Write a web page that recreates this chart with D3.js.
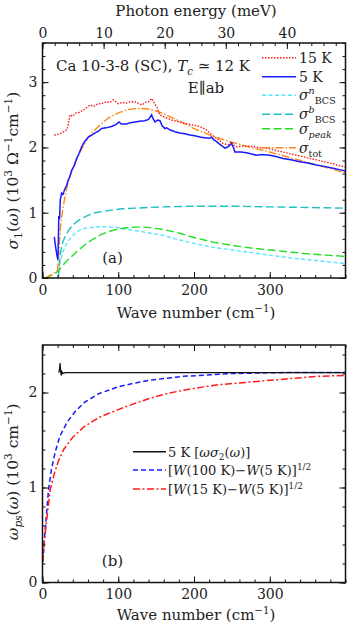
<!DOCTYPE html>
<html>
  <head>
    <meta charset="utf-8">
    <title>Ca 10-3-8 optical conductivity</title>
    <style>
      body { margin: 0; background: #fff; }
      text { font-family: "DejaVu Serif", serif; fill: #222; }
    </style>
  </head>
  <body>
    <div id="container"></div>
    <script src="https://cdn.jsdelivr.net/npm/d3@7"></script>
    <script>
      // panel (a): sigma_1, x in cm^-1, y in 10^3 Ohm^-1 cm^-1
      var sig15K = [[15.6,2.19],[20,2.2],[25.3,2.22],[29,2.25],[32,2.27],[34,2.35],[36.3,2.50],[40,2.48],[44,2.53],[47,2.53],[52,2.56],[57,2.6],[62.7,2.65],[68,2.63],[73,2.67],[78,2.67],[84,2.7],[89,2.69],[93.4,2.73],[97,2.7],[100,2.67],[105,2.69],[111,2.68],[116,2.7],[122,2.70],[126,2.68],[131,2.65],[136,2.69],[140,2.7],[144,2.75],[148,2.67],[151,2.62],[155,2.50],[160,2.47],[164,2.45],[170,2.42],[178,2.4],[186,2.37],[196,2.35],[207.8,2.32],[215,2.28],[221,2.22],[226,2.17],[230,2.14],[238.5,2.06],[245,2.04],[249.6,2.09],[253,2.03],[256,2.01],[265,2.02],[273.7,2.02],[285,2.0],[295.7,1.99],[306,1.96],[317.6,1.93],[328,1.9],[339.7,1.87],[350,1.84],[361.7,1.81],[372,1.78],[383.6,1.75],[392,1.72],[400,1.70]];
      var sig5K = [[15.6,0.63],[17,0.5],[19,0.35],[20.3,0.28],[21,0.6],[21.5,0.95],[22.5,0.9],[23.5,1.2],[25.3,1.30],[27,1.28],[29.7,1.37],[32,1.42],[34,1.5],[36,1.55],[38.5,1.65],[42,1.72],[45,1.83],[48,1.9],[51.7,2.01],[55,2.08],[60.5,2.16],[65,2.19],[69,2.22],[74,2.25],[78,2.29],[84,2.3],[91,2.32],[97,2.35],[101,2.39],[104,2.36],[111,2.36],[116,2.38],[122,2.39],[128,2.4],[135,2.41],[140,2.43],[144,2.50],[146,2.44],[148.5,2.39],[152,2.42],[155,2.41],[158,2.33],[161.6,2.29],[164,2.3],[168,2.27],[175,2.24],[181,2.22],[188,2.21],[194.6,2.19],[201,2.18],[207.8,2.16],[214,2.15],[221,2.14],[223,2.16],[226,2.12],[229.8,2.09],[235,2.04],[240.8,1.99],[245,2.01],[249.6,2.06],[252,2.0],[254,1.93],[262,1.93],[269.4,1.92],[276,1.9],[282.6,1.88],[290,1.89],[300,1.88],[308,1.86],[317.6,1.83],[328,1.81],[339.7,1.78],[350,1.76],[361.7,1.73],[372,1.71],[383.6,1.68],[392,1.66],[400,1.64]];
      var sigBCSn = [[20.9,0],[22,0.15],[23.5,0.26],[25.3,0.33],[28,0.43],[32,0.53],[36,0.6],[40.6,0.66],[46,0.71],[51.7,0.75],[60,0.77],[69,0.78],[80,0.785],[91,0.78],[100,0.77],[109,0.75],[120,0.73],[131,0.71],[145,0.68],[157,0.66],[175,0.6],[200,0.53],[225,0.47],[250,0.43],[275,0.39],[300,0.35],[325,0.31],[350,0.28],[375,0.25],[400,0.22]];
      var sigBCSb = [[20.9,0],[22,0.2],[24.4,0.43],[27,0.56],[29.7,0.63],[34,0.72],[38.5,0.79],[45,0.86],[51.7,0.91],[60,0.96],[69,1.0],[80,1.02],[91,1.04],[105,1.06],[122,1.07],[140,1.08],[160,1.09],[200,1.1],[250,1.1],[300,1.09],[350,1.08],[400,1.07]];
      var sigPeak = [[3.3,0],[10,0.03],[16.5,0.07],[20,0.1],[25.3,0.17],[31,0.25],[38.5,0.33],[46,0.41],[56,0.51],[66,0.59],[78,0.67],[90,0.72],[100,0.75],[111,0.77],[122,0.78],[135,0.78],[150,0.76],[165,0.73],[180,0.69],[200,0.62],[225,0.55],[250,0.5],[275,0.46],[300,0.43],[325,0.4],[350,0.37],[375,0.35],[400,0.33]];
      var sigTot = [[3.3,0],[8,0.03],[12,0.05],[16,0.08],[20,0.12],[21.8,0.43],[23.5,0.75],[25.3,0.94],[27.5,1.1],[29.7,1.25],[34,1.47],[40.6,1.70],[49.5,1.93],[60.5,2.16],[73.6,2.32],[86.8,2.45],[100,2.53],[113,2.58],[126.4,2.60],[139.6,2.59],[155,2.54],[170,2.46],[185,2.38],[200,2.29],[225,2.17],[250,2.08],[275,2.0],[300,1.93],[325,1.85],[350,1.77],[375,1.69],[400,1.61]];

      // panel (b): omega_ps, y in 10^3 cm^-1
      var wps5K = [[21.5,2.21],[22.5,2.24],[23.2,2.31],[24,2.22],[24.8,2.18],[25.5,2.22],[27,2.2],[30,2.21],[60,2.21],[100,2.21],[150,2.21],[200,2.21],[300,2.21],[400,2.21]];
      var wps100K = [[0.5,0.22],[2,0.4],[4,0.6],[8,0.98],[12,1.2],[17,1.38],[23,1.54],[32,1.68],[43,1.8],[56,1.9],[75,1.99],[100,2.06],[122,2.1],[142,2.13],[186,2.17],[251,2.2],[320,2.21],[400,2.21]];
      var wps15K = [[0.5,0.22],[2,0.4],[5,0.62],[10,0.97],[15,1.13],[21,1.28],[28,1.4],[40,1.53],[55,1.64],[75,1.74],[100,1.82],[120,1.88],[142,1.94],[165,1.99],[190,2.03],[230,2.08],[274,2.11],[318,2.14],[362,2.17],[400,2.18]];

      var xTicks = [0,100,200,300];
      var meVTicks = [0,10,20,30,40];
      var yTicksA = [0,1,2,3];
      var yTicksB = [0,1,2];

      var W = 347, H = 626;
      var left = 42.5, right = 345.5;
      var panA = {top: 43, bottom: 278, max: 3.6};
      var panB = {top: 345, bottom: 582.5, max: 2.5};

      var svg = d3.select("#container").append("svg")
        .attr("width", W).attr("height", H);

      var x = d3.scaleLinear().domain([0,400]).range([left, right]);
      var xMeV = d3.scaleLinear().domain([0, 400/8.0655]).range([left, right]);
      var yA = d3.scaleLinear().domain([0, panA.max]).range([panA.bottom, panA.top]);
      var yB = d3.scaleLinear().domain([0, panB.max]).range([panB.bottom, panB.top]);

      function minors(lo, hi, step) {
        var out = [];
        for (var v = lo; v <= hi + 1e-9; v += step) out.push(+v.toFixed(4));
        return out;
      }

      function drawAxes(p, y, yMaj, showTopMeV) {
        var g = svg.append("g");
        var h = p.bottom - p.top;
        // bottom
        g.append("g").attr("transform","translate(0," + p.bottom + ")")
          .call(d3.axisBottom(x).tickValues(minors(0,400,20)).tickSize(-3).tickFormat(""));
        g.append("g").attr("class","lab").attr("transform","translate(0," + p.bottom + ")")
          .call(d3.axisBottom(x).tickValues(xTicks).tickSize(-6).tickPadding(7).tickFormat(d3.format("d")));
        // top
        if (showTopMeV) {
          g.append("g").attr("transform","translate(0," + p.top + ")")
            .call(d3.axisTop(xMeV).tickValues(minors(0,48,2)).tickSize(-3).tickFormat(""));
          g.append("g").attr("class","lab").attr("transform","translate(0," + p.top + ")")
            .call(d3.axisTop(xMeV).tickValues(meVTicks).tickSize(-6).tickPadding(5).tickFormat(d3.format("d")));
        } else {
          g.append("g").attr("transform","translate(0," + p.top + ")")
            .call(d3.axisTop(x).tickValues(minors(0,400,20)).tickSize(-3).tickFormat(""));
          g.append("g").attr("transform","translate(0," + p.top + ")")
            .call(d3.axisTop(x).tickValues(xTicks).tickSize(-6).tickFormat(""));
        }
        // left/right
        g.append("g").attr("transform","translate(" + left + ",0)")
          .call(d3.axisLeft(y).tickValues(minors(0,p.max,0.2)).tickSize(-3).tickFormat(""));
        g.append("g").attr("class","lab").attr("transform","translate(" + left + ",0)")
          .call(d3.axisLeft(y).tickValues(yMaj).tickSize(-6).tickPadding(5).tickFormat(d3.format("d")));
        g.append("g").attr("transform","translate(" + right + ",0)")
          .call(d3.axisRight(y).tickValues(minors(0,p.max,0.2)).tickSize(-3).tickFormat(""));
        g.append("g").attr("transform","translate(" + right + ",0)")
          .call(d3.axisRight(y).tickValues(yMaj).tickSize(-6).tickFormat(""));
        g.selectAll(".domain").remove();
        g.selectAll(".tick line").attr("stroke","#111").attr("stroke-width",1);
        g.selectAll(".lab text").attr("font-family","DejaVu Serif").attr("font-size",14).attr("fill","#222");
        g.append("rect").attr("x",left).attr("y",p.top).attr("width",right-left).attr("height",h)
          .attr("fill","none").attr("stroke","#111").attr("stroke-width",1.5);
      }

      function drawLine(data, y, color, dash, wid) {
        var line = d3.line().x(function(d){ return x(d[0]); }).y(function(d){ return y(d[1]); });
        svg.append("path").datum(data).attr("d", line)
          .attr("fill","none").attr("stroke",color).attr("stroke-width",wid || 1.4)
          .attr("stroke-dasharray", dash);
      }

      // rich text helper: parts = [[text, style]] style: i=italic, sub, sup
      function rich(sel, parts, size) {
        parts.forEach(function(p) {
          var t = sel.append("tspan").text(p[0]);
          var st = p[1] || "";
          if (st.indexOf("i") >= 0) t.attr("font-style","italic");
          if (st.indexOf("sub") >= 0) t.attr("baseline-shift", -(size*0.25) + "px").attr("font-size", size*0.68);
          if (st.indexOf("sup") >= 0) t.attr("baseline-shift", (size*0.42) + "px").attr("font-size", size*0.68);
        });
      }

      var colN = "#55e6ff", colB = "#1fbfc4", colP = "#22dd22", colT = "#ff8a1c";

      // ---- panel (a)
      drawLine(sigBCSn, yA, colN, "4,2.5");
      drawLine(sigBCSb, yA, colB, "8,3.5");
      drawLine(sigPeak, yA, colP, "8,3.5");
      drawLine(sigTot, yA, colT, "8,2,1.5,2");
      drawLine(sig15K, yA, "#ff1a1a", "1.5,1.5");
      drawLine(sig5K, yA, "#1a1aff", null, 1.5);
      drawAxes(panA, yA, yTicksA, true);

      // ---- panel (b)
      drawLine(wps100K, yB, "#1a1aff", "5,3", 1.5);
      drawLine(wps15K, yB, "#ff1a1a", "7,2.5,2,2.5", 1.5);
      drawLine(wps5K, yB, "#111", null, 1.3);
      drawAxes(panB, yB, yTicksB, false);

      // axis titles
      svg.append("text").attr("x",(left+right)/2 + 2).attr("y",16).attr("text-anchor","middle")
        .attr("font-size",15).text("Photon energy (meV)");
      [318, 620].forEach(function(yy) {
        var t = svg.append("text").attr("x",(left+right)/2 + 2).attr("y",yy).attr("text-anchor","middle").attr("font-size",15);
        rich(t, [["Wave number (cm"],["\u22121","sup"],[")"]], 15);
      });
      var yl = svg.append("text").attr("transform","translate(18," + ((panA.top+panA.bottom)/2 + 10) + ") rotate(-90)")
        .attr("text-anchor","middle").attr("font-size",15.5);
      rich(yl, [["\u03c3","i"],["1","sub"],["("],["\u03c9","i"],[")  (10"],["3","sup"],[" \u03a9"],["\u22121","sup"],["cm"],["\u22121","sup"],[")"]], 15.5);
      var yl2 = svg.append("text").attr("transform","translate(18," + ((panB.top+panB.bottom)/2 + 8) + ") rotate(-90)")
        .attr("text-anchor","middle").attr("font-size",15.5);
      rich(yl2, [["\u03c9","i"],["ps","i sub"],["("],["\u03c9","i"],[")  (10"],["3","sup"],[" cm"],["\u22121","sup"],[")"]], 15.5);

      // annotations
      var ttl = svg.append("text").attr("x",153).attr("y",71).attr("text-anchor","middle").attr("font-size",15);
      rich(ttl, [["Ca 10-3-8 (SC), "],["T","i"],["c","i sub"],[" \u2243 12 K"]], 15);
      svg.append("text").attr("x",206).attr("y",93).attr("text-anchor","middle").attr("font-size",15).text("E\u2225ab");
      svg.append("text").attr("x",112.5).attr("y",263).attr("text-anchor","middle").attr("font-size",15).text("(a)");
      svg.append("text").attr("x",112.5).attr("y",566).attr("text-anchor","middle").attr("font-size",15).text("(b)");

      // legend (a)
      var legA = [
        {c:"#ff1a1a", d:"1.5,1.5", y:57.7, t:[["15 K"]]},
        {c:"#1a1aff", d:null, y:76.7, t:[["5 K"]]},
        {c:colN, d:"4,2.5", y:95.3, t:[["\u03c3","i"],["n","i sup"],["BCS","sub"]]},
        {c:colB, d:"8,3.5", y:114.3, t:[["\u03c3","i"],["b","i sup"],["BCS","sub"]]},
        {c:colP, d:"8,3.5", y:128.7, t:[["\u03c3","i"],["peak","i sub"]]},
        {c:colT, d:"8,2,1.5,2", y:147.7, t:[["\u03c3","i"],["tot","sub"]]}
      ];
      legA.forEach(function(l) {
        svg.append("line").attr("x1",262).attr("x2",296).attr("y1",l.y).attr("y2",l.y)
          .attr("stroke",l.c).attr("stroke-width",1.5).attr("stroke-dasharray",l.d);
        var t = svg.append("text").attr("x",299).attr("y",l.y+5).attr("font-size",14);
        rich(t, l.t, 14);
      });

      // legend (b)
      var legB = [
        {c:"#111", d:null, y:451.7, t:[["5 K ["],["\u03c9\u03c3","i"],["2","sub"],["("],["\u03c9","i"],[")]"]]},
        {c:"#1a1aff", d:"5,3", y:470, t:[["["],["W","i"],["(100 K)\u2212"],["W","i"],["(5 K)]"],["1/2","sup"]]},
        {c:"#ff1a1a", d:"7,2.5,2,2.5", y:489, t:[["["],["W","i"],["(15 K)\u2212"],["W","i"],["(5 K)]"],["1/2","sup"]]}
      ];
      legB.forEach(function(l) {
        svg.append("line").attr("x1",133).attr("x2",166).attr("y1",l.y).attr("y2",l.y)
          .attr("stroke",l.c).attr("stroke-width",1.5).attr("stroke-dasharray",l.d);
        var t = svg.append("text").attr("x",168).attr("y",l.y+5).attr("font-size",13);
        rich(t, l.t, 13);
      });
    </script>
  </body>
</html>
